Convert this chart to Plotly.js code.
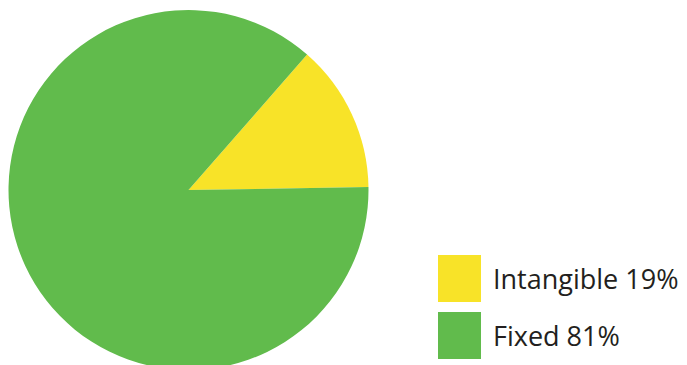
<!DOCTYPE html>
<html><head><meta charset="utf-8">
<script src="https://cdn.plot.ly/plotly-3.0.1.min.js"></script>
<style>html,body{margin:0;padding:0;overflow:hidden;background:#fff}#chart{width:687px;height:370px}</style>
</head><body><div id="chart"></div>
<script>
// Data (shares as drawn in the picture; legend text as printed)
const categories = ["Intangible", "Fixed"];
const sliceValues = [13.3, 86.7];
const legendPercents = ["19%", "81%"];
const sliceColors = ["#F8E328", "#61BB4C"];

const W = 687, H = 370;
const py = t => (H - t) / H;   // top-pixel -> paper y
const px = x => x / W;

const shapes = [], annotations = [];
const rowTops = [255, 312];
categories.forEach((c, i) => {
  const top = rowTops[i];
  shapes.push({type: "rect", xref: "paper", yref: "paper",
    x0: px(438), x1: px(481), y0: py(top + 47), y1: py(top),
    fillcolor: sliceColors[i], line: {width: 0}});
  annotations.push({xref: "paper", yref: "paper", x: px(491), y: py(top + 23.5),
    xanchor: "left", yanchor: "middle", showarrow: false,
    text: c + " " + legendPercents[i],
    font: {family: "Open Sans", size: 27, color: "#231F20"}});
});

Plotly.newPlot("chart", [{
  type: "pie", labels: categories, values: sliceValues, sort: false,
  direction: "clockwise", rotation: 41.2,
  marker: {colors: sliceColors, line: {width: 0}},
  textinfo: "none", hoverinfo: "skip",
  domain: {x: [px(8.5), px(368.5)], y: [0, 360 / H]}
}], {
  width: W, height: H, margin: {l: 0, r: 0, t: 0, b: 0},
  showlegend: false, paper_bgcolor: "#fff",
  shapes: shapes, annotations: annotations
}, {staticPlot: true});
</script></body></html>
